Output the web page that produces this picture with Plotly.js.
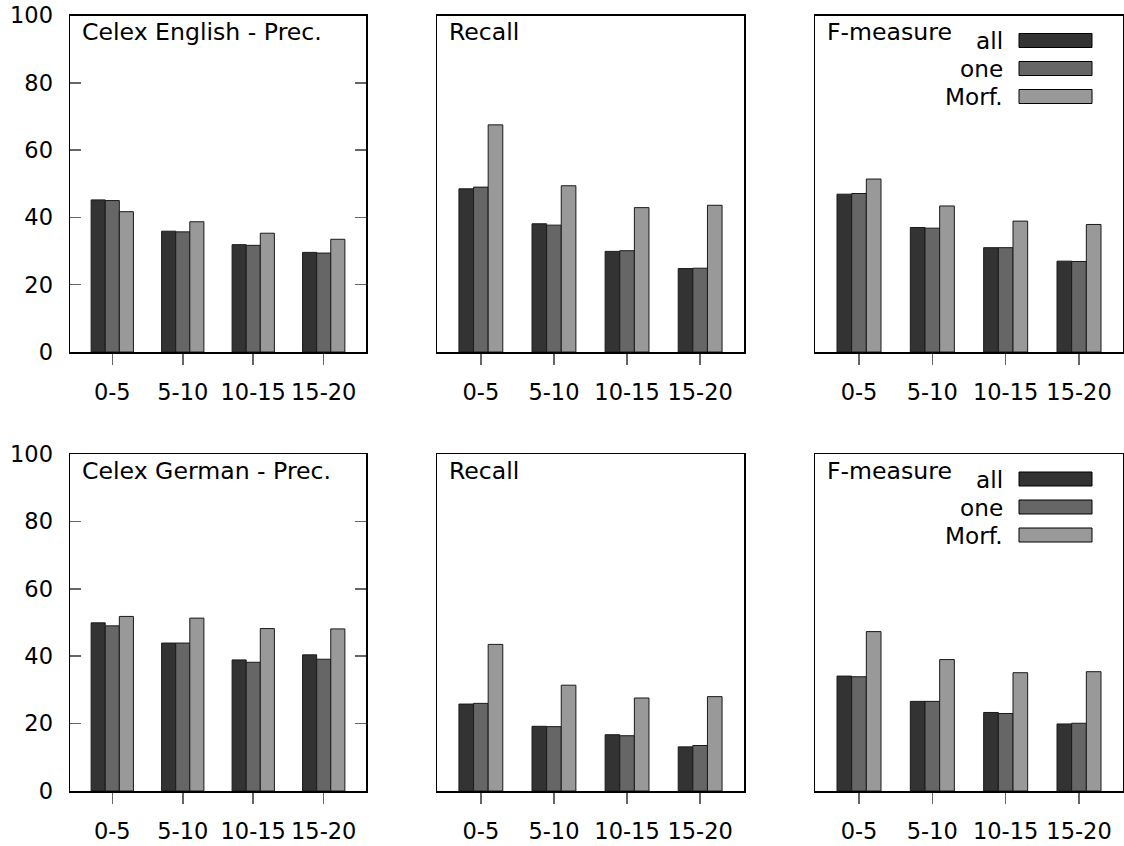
<!DOCTYPE html>
<html>
<head>
<meta charset="utf-8">
<script src="https://cdn.plot.ly/plotly-3.0.1.min.js"></script>
<style>
html,body{margin:0;padding:0;background:#fff;}
#chart{width:1124px;height:846px;}
</style>
</head>
<body>
<div id="chart"></div>
<script>
// ---- data ----
const categories = ['0-5', '5-10', '10-15', '15-20'];
const seriesNames = ['all', 'one', 'Morf.'];

// Celex English
const enPrecAll  = [45.2, 35.9, 31.9, 29.6];
const enPrecOne  = [45.0, 35.7, 31.7, 29.4];
const enPrecMorf = [41.7, 38.7, 35.3, 33.5];

const enRecAll  = [48.5, 38.1, 29.9, 24.8];
const enRecOne  = [49.0, 37.7, 30.1, 24.9];
const enRecMorf = [67.5, 49.4, 42.9, 43.6];

const enFAll  = [46.9, 37.0, 31.0, 27.0];
const enFOne  = [47.1, 36.8, 31.0, 26.9];
const enFMorf = [51.4, 43.4, 38.9, 37.9];

// Celex German
const dePrecAll  = [49.9, 43.9, 38.9, 40.4];
const dePrecOne  = [49.0, 43.9, 38.2, 39.1];
const dePrecMorf = [51.8, 51.3, 48.2, 48.1];

const deRecAll  = [25.8, 19.2, 16.7, 13.1];
const deRecOne  = [26.0, 19.1, 16.4, 13.5];
const deRecMorf = [43.5, 31.4, 27.6, 28.0];

const deFAll  = [34.1, 26.6, 23.3, 19.9];
const deFOne  = [33.9, 26.6, 23.0, 20.1];
const deFMorf = [47.3, 39.0, 35.1, 35.4];

const panelTitles = ['Celex English - Prec.', 'Recall', 'F-measure',
                     'Celex German - Prec.', 'Recall', 'F-measure'];
const yTickVals = [0, 20, 40, 60, 80, 100];

// ---- layout helpers ----
const W = 1124, H = 846;
const colors = ['#333333', '#666666', '#999999'];
const FONT = 'DejaVu Sans, sans-serif';
const TICK_SIZE = 22.5, TITLE_SIZE = 23.6, LEG_SIZE = 23.2;
const px = x => x / W;
const py = y => 1 - y / H;

const colPx = [[70, 366], [437, 744], [815, 1123]];
const rowPx = [[15.5, 352], [454, 791]];

const panels = [
  [enPrecAll, enPrecOne, enPrecMorf],
  [enRecAll, enRecOne, enRecMorf],
  [enFAll, enFOne, enFMorf],
  [dePrecAll, dePrecOne, dePrecMorf],
  [deRecAll, deRecOne, deRecMorf],
  [deFAll, deFOne, deFMorf]
];

const traces = [];
const layout = {
  width: W, height: H,
  margin: {l: 0, r: 0, t: 0, b: 0},
  paper_bgcolor: '#ffffff',
  plot_bgcolor: '#ffffff',
  showlegend: false,
  barmode: 'group',
  bargap: 0.4,
  bargroupgap: 0,
  font: {family: FONT, size: TICK_SIZE, color: '#000000'},
  annotations: [],
  shapes: []
};

panels.forEach((series, i) => {
  const r = Math.floor(i / 3), c = i % 3;
  const n = i + 1;
  const xa = n === 1 ? 'x' : 'x' + n;
  const ya = n === 1 ? 'y' : 'y' + n;
  series.forEach((vals, s) => {
    traces.push({
      type: 'bar',
      x: categories,
      y: vals,
      name: seriesNames[s],
      xaxis: xa, yaxis: ya,
      marker: {color: colors[s], line: {color: '#1a1a1a', width: 1}},
      hoverinfo: 'x+y+name'
    });
  });
  const xkey = n === 1 ? 'xaxis' : 'xaxis' + n;
  const ykey = n === 1 ? 'yaxis' : 'yaxis' + n;
  layout[xkey] = {
    domain: [px(colPx[c][0]), px(colPx[c][1])],
    anchor: ya,
    type: 'category',
    range: [-0.6, 3.6],
    showline: true, mirror: true, linecolor: '#000000', linewidth: 1.5,
    ticks: 'outside', ticklen: 11, tickwidth: 1.5, tickcolor: '#666666',
    ticklabelstandoff: 8,
    tickfont: {family: FONT, size: TICK_SIZE, color: '#000000'},
    showgrid: false, zeroline: false, fixedrange: true
  };
  const yax = {
    domain: [py(rowPx[r][1]), py(rowPx[r][0])],
    anchor: xa,
    range: [0, 100],
    tickvals: yTickVals,
    showline: true, mirror: true, linecolor: '#000000', linewidth: 1.5,
    showgrid: false, zeroline: false, fixedrange: true,
    tickfont: {family: FONT, size: TICK_SIZE, color: '#000000'}
  };
  if (c === 0) {
    yax.ticks = 'inside';
    yax.ticklen = 11;
    yax.tickwidth = 1.5;
    yax.tickcolor = '#666666';
    yax.mirror = 'allticks';
    yax.ticklabelstandoff = 11;
  } else {
    yax.ticks = '';
    yax.showticklabels = false;
  }
  layout[ykey] = yax;

  // panel title
  layout.annotations.push({
    xref: 'paper', yref: 'paper',
    x: px(colPx[c][0] + 10), y: py(rowPx[r][0] + 17),
    xanchor: 'left', yanchor: 'middle',
    text: panelTitles[i], showarrow: false,
    font: {family: FONT, size: TITLE_SIZE, color: '#000000'}
  });

  // legend in right panels
  if (c === 2) {
    const base = rowPx[r][0];
    const rowsY = [base + 25, base + 53, base + 81];
    seriesNames.forEach((nm, s) => {
      layout.annotations.push({
        xref: 'paper', yref: 'paper',
        x: px(1005), y: py(rowsY[s]),
        xanchor: 'right', yanchor: 'middle',
        text: nm, showarrow: false,
        font: {family: FONT, size: LEG_SIZE, color: '#000000'}
      });
      layout.shapes.push({
        type: 'rect', xref: 'paper', yref: 'paper',
        x0: px(1019), x1: px(1092),
        y0: py(rowsY[s] - 7), y1: py(rowsY[s] + 7),
        fillcolor: colors[s],
        line: {color: '#000000', width: 1}
      });
    });
  }
});

Plotly.newPlot('chart', traces, layout, {displayModeBar: false, staticPlot: true});
</script>
</body>
</html>
